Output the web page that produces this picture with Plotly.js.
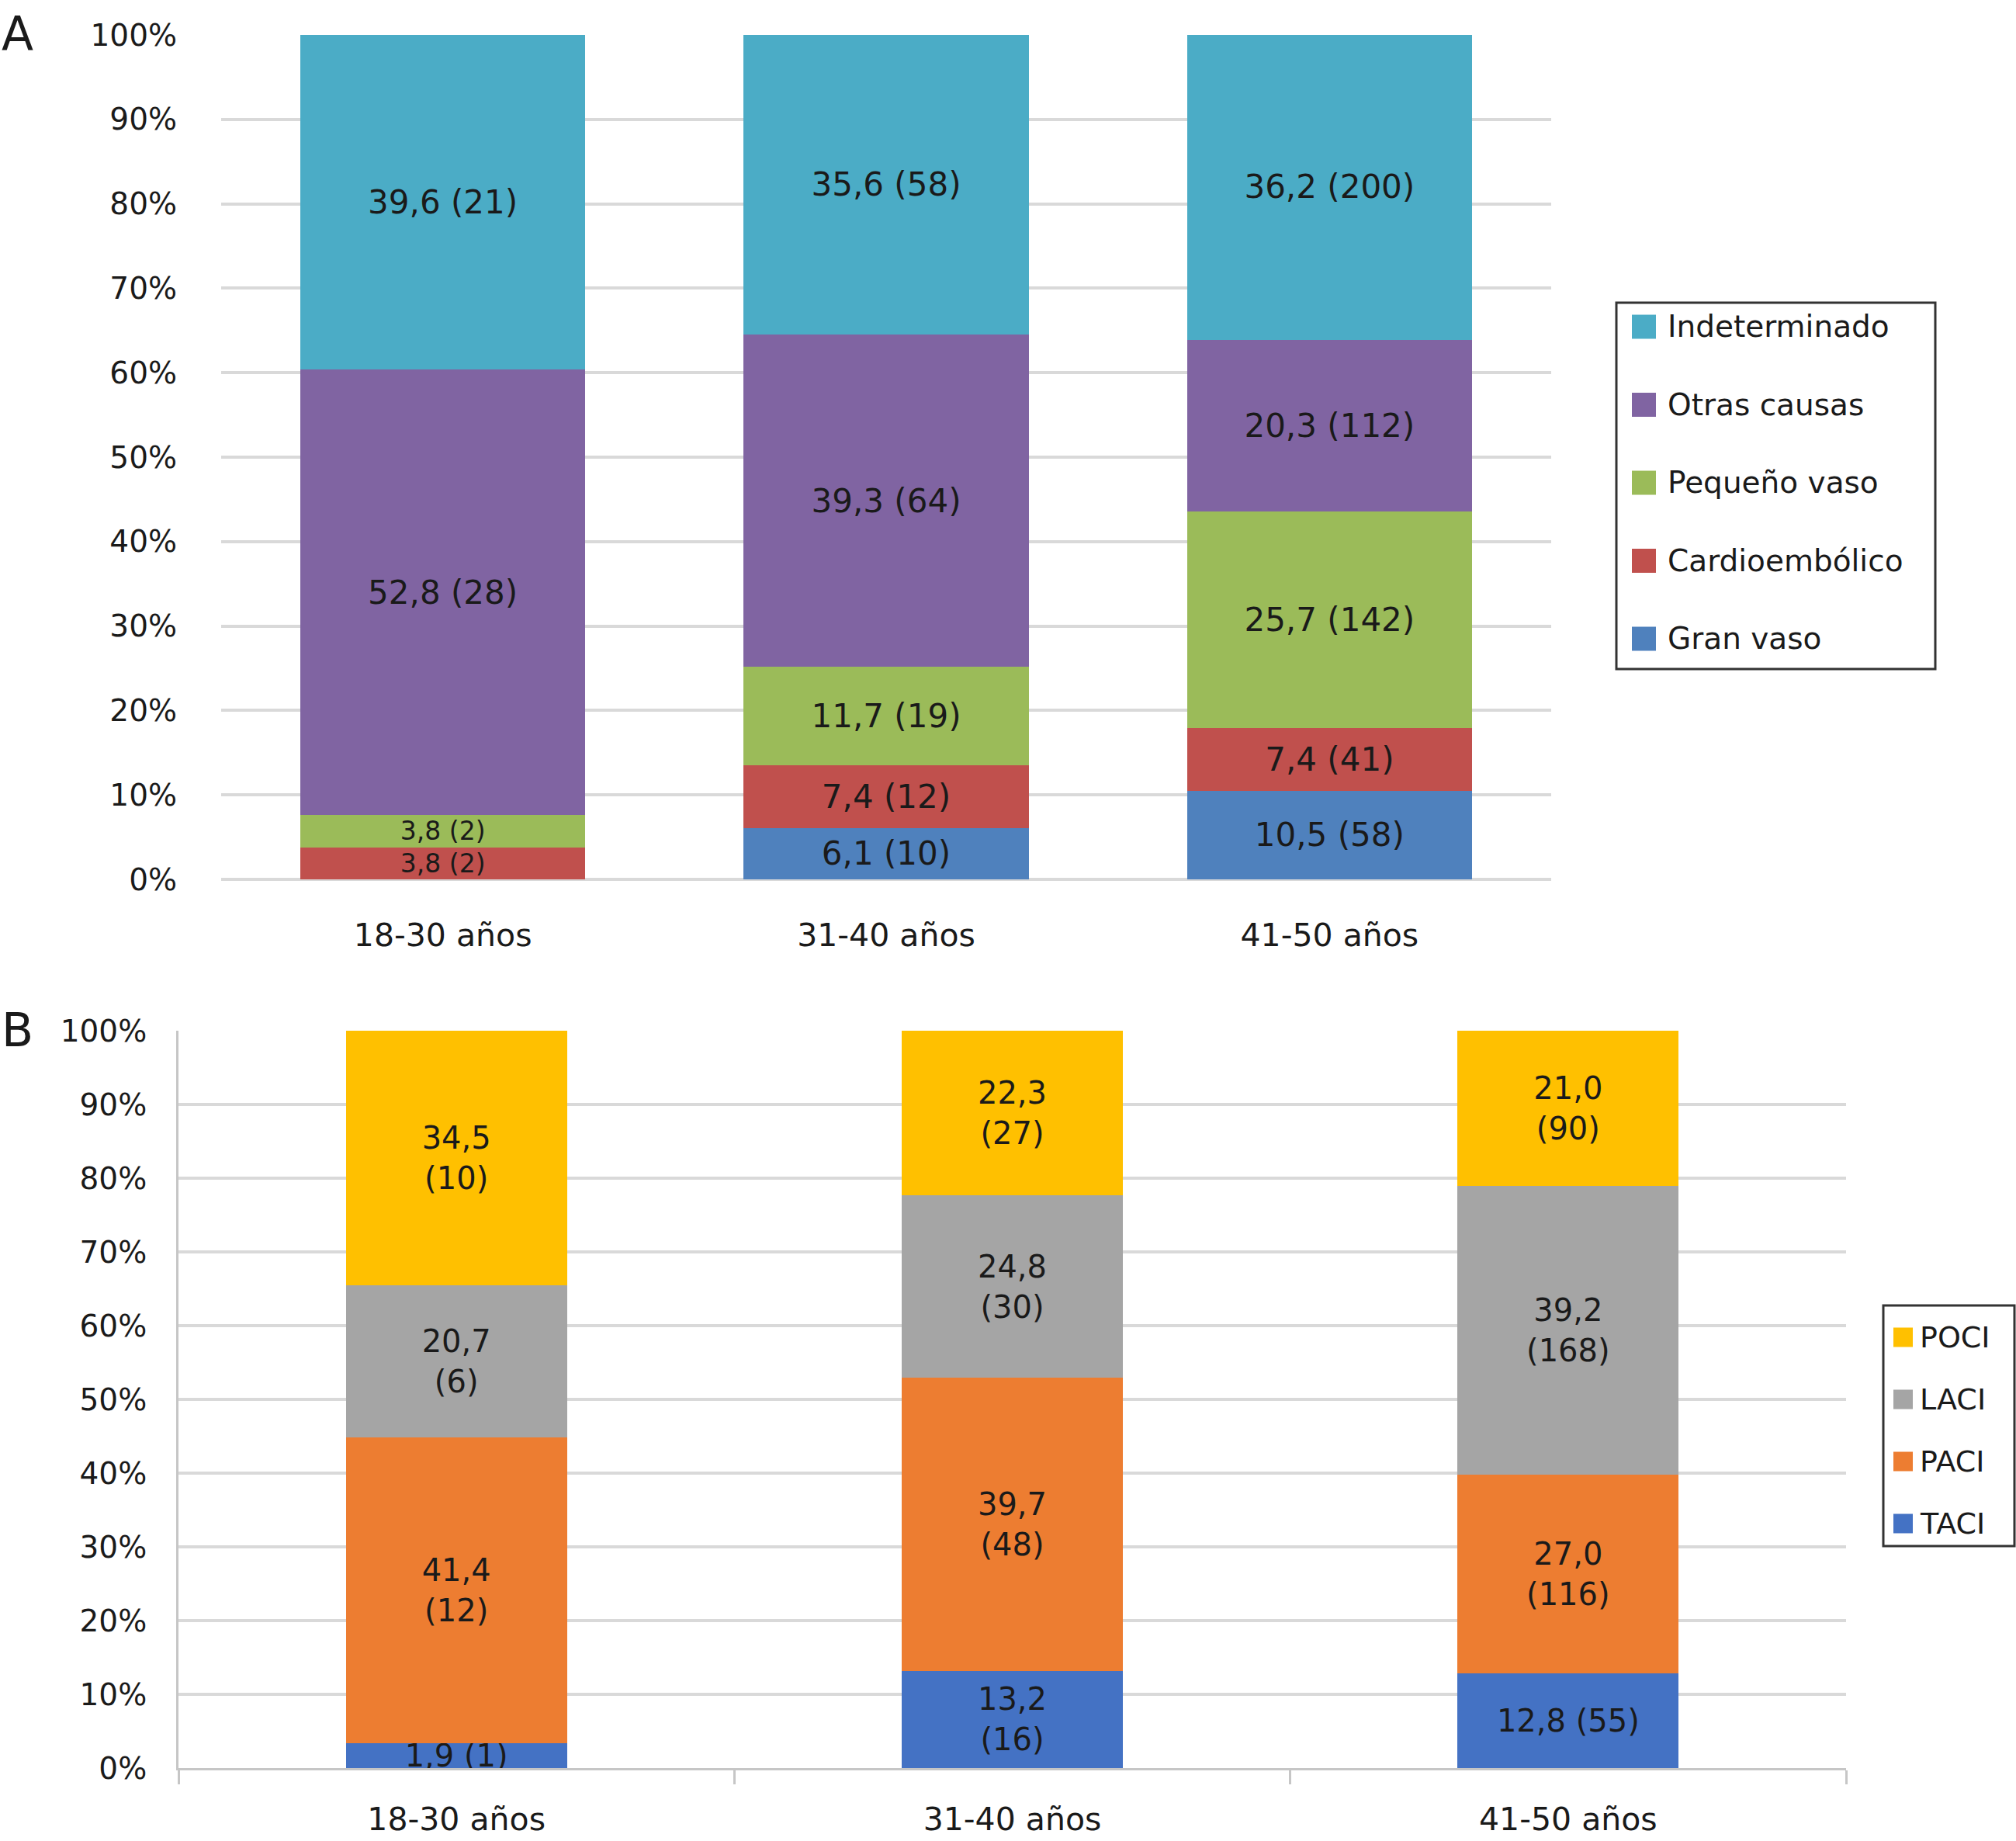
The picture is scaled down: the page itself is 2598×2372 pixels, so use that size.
<!DOCTYPE html>
<html><head><meta charset="utf-8">
<script src="https://cdn.plot.ly/plotly-3.0.1.min.js"></script>
<style>html,body{margin:0;padding:0;background:#fff;}#chart{width:2598px;height:2372px;}</style>
</head><body><div id="chart"></div>
<script>
// ---------- Panel A data (percent, n) ----------
const agesA = ['18-30 años', '31-40 años', '41-50 años'];
const granVaso = [0, 6.1, 10.5];
const granVasoN = [0, 10, 58];
const cardioembolico = [3.8, 7.4, 7.4];
const cardioembolicoN = [2, 12, 41];
const pequenoVaso = [3.8, 11.7, 25.7];
const pequenoVasoN = [2, 19, 142];
const otrasCausas = [52.8, 39.3, 20.3];
const otrasCausasN = [28, 64, 112];
const indeterminado = [39.6, 35.6, 36.2];
const indeterminadoN = [21, 58, 200];

// ---------- Panel B data ----------
const agesB = ['18-30 años', '31-40 años', '41-50 años'];
const taci = [3.4, 13.2, 12.8];
const taciLabels = ['1,9 (1)', '13,2<br>(16)', '12,8 (55)'];
const paci = [41.4, 39.7, 27.0];
const paciLabels = ['41,4<br>(12)', '39,7<br>(48)', '27,0<br>(116)'];
const laci = [20.7, 24.8, 39.2];
const laciLabels = ['20,7<br>(6)', '24,8<br>(30)', '39,2<br>(168)'];
const poci = [34.5, 22.3, 21.0];
const pociLabels = ['34,5<br>(10)', '22,3<br>(27)', '21,0<br>(90)'];

const yTickVals = [0, 10, 20, 30, 40, 50, 60, 70, 80, 90, 100];
const yTickText = ['0%', '10%', '20%', '30%', '40%', '50%', '60%', '70%', '80%', '90%', '100%'];

const FONT = 'DejaVu Sans, sans-serif';
const TXT = '#1a1a1a';
const W = 2598, H = 2372;
const px = v => v / W;
const py = v => 1 - v / H;

function labelA(vals, ns) {
  return vals.map((v, i) => v > 0 ? v.toFixed(1).replace('.', ',') + ' (' + ns[i] + ')' : '');
}
// thin segments (< 5 %) get a slightly smaller label so stacked labels do not collide
function sizesFor(vals, big, small) {
  return vals.map(v => v < 5 ? small : big);
}

function barA(name, vals, ns, color) {
  const sz = sizesFor(vals, 42, 33);
  return {
    type: 'bar', name: name, x: agesA, y: vals, xaxis: 'x', yaxis: 'y',
    width: 0.643, marker: {color: color, line: {width: 0}},
    text: labelA(vals, ns), textposition: 'inside', insidetextanchor: 'middle', textangle: 0,
    constraintext: 'none',
    textfont: {family: FONT, size: sz, color: TXT}, insidetextfont: {family: FONT, size: sz, color: TXT},
    showlegend: false, hoverinfo: 'skip'
  };
}
function barB(name, vals, labels, color) {
  return {
    type: 'bar', name: name, x: agesB, y: vals, xaxis: 'x2', yaxis: 'y2',
    width: 0.398, marker: {color: color, line: {width: 0}},
    text: labels, textposition: 'inside', insidetextanchor: 'middle', textangle: 0,
    constraintext: 'none',
    textfont: {family: FONT, size: 40, color: TXT}, insidetextfont: {family: FONT, size: 40, color: TXT},
    showlegend: false, hoverinfo: 'skip'
  };
}

const tracesA = [
  barA('Gran vaso', granVaso, granVasoN, '#4F81BD'),
  barA('Cardioembólico', cardioembolico, cardioembolicoN, '#C0504D'),
  barA('Pequeño vaso', pequenoVaso, pequenoVasoN, '#9BBB59'),
  barA('Otras causas', otrasCausas, otrasCausasN, '#8064A2'),
  barA('Indeterminado', indeterminado, indeterminadoN, '#4BACC6')
];
const tracesB = [
  barB('TACI', taci, taciLabels, '#4472C4'),
  barB('PACI', paci, paciLabels, '#ED7D31'),
  barB('LACI', laci, laciLabels, '#A5A5A5'),
  barB('POCI', poci, pociLabels, '#FFC000')
];
const data = tracesA.concat(tracesB);

// ---------- legends (boxes, swatches, names) built from the traces ----------
const shapes = [];
const annotations = [];
function buildLegend(traces, box, sw, textX, firstY, step, fontSize) {
  shapes.push({type: 'rect', xref: 'paper', yref: 'paper',
    x0: px(box[0]), x1: px(box[1]), y0: py(box[3]), y1: py(box[2]),
    line: {color: '#333', width: 3}, fillcolor: 'rgba(0,0,0,0)', layer: 'above'});
  traces.slice().reverse().forEach(function (t, i) {
    const cy = firstY + i * step;
    shapes.push({type: 'rect', xref: 'paper', yref: 'paper',
      x0: px(sw[0]), x1: px(sw[1]), y0: py(cy + sw[2] / 2), y1: py(cy - sw[2] / 2),
      line: {width: 0}, fillcolor: t.marker.color, layer: 'above'});
    annotations.push({text: t.name, xref: 'paper', yref: 'paper', x: px(textX), y: py(cy),
      xanchor: 'left', yanchor: 'middle', showarrow: false,
      font: {family: FONT, size: fontSize, color: TXT}});
  });
}
buildLegend(tracesA, [2083, 2494, 390, 862], [2103, 2134, 31], 2147, 421, 100.5, 39);
buildLegend(tracesB, [2427, 2596, 1682, 1992], [2440, 2465, 25], 2472, 1723, 80, 38);

annotations.push({text: 'A', xref: 'paper', yref: 'paper', x: px(0), y: py(6), xanchor: 'left', yanchor: 'top',
  showarrow: false, font: {family: FONT, size: 60, color: TXT}});
annotations.push({text: 'B', xref: 'paper', yref: 'paper', x: px(0), y: py(1290), xanchor: 'left', yanchor: 'top',
  showarrow: false, font: {family: FONT, size: 60, color: TXT}});

const GRID = '#d9d9d9';
const layout = {
  width: W, height: H,
  margin: {l: 0, r: 0, t: 0, b: 0},
  paper_bgcolor: '#fff', plot_bgcolor: 'rgba(0,0,0,0)',
  barmode: 'stack',
  font: {family: FONT, size: 39, color: TXT},
  showlegend: false,
  xaxis: {
    domain: [px(285), px(1999)], anchor: 'y', type: 'category',
    showgrid: false, showline: false, zeroline: false, ticks: '',
    tickfont: {family: FONT, size: 41, color: TXT}, ticklabelstandoff: 44,
    automargin: false, fixedrange: true
  },
  yaxis: {
    domain: [py(1133), py(45)], anchor: 'x', range: [0, 100],
    tickvals: yTickVals, ticktext: yTickText,
    showgrid: true, gridcolor: GRID, gridwidth: 4,
    zeroline: true, zerolinecolor: GRID, zerolinewidth: 4,
    showline: false, ticks: '',
    tickfont: {family: FONT, size: 39, color: TXT}, ticklabelstandoff: 56,
    automargin: false, fixedrange: true
  },
  xaxis2: {
    domain: [px(230), px(2379)], anchor: 'y2', type: 'category',
    showgrid: false, zeroline: false,
    showline: true, linecolor: '#c6c6c6', linewidth: 3,
    ticks: 'outside', tickson: 'boundaries', ticklen: 18, tickwidth: 3, tickcolor: '#c6c6c6',
    tickfont: {family: FONT, size: 41, color: TXT}, ticklabelstandoff: 28,
    automargin: false, fixedrange: true
  },
  yaxis2: {
    domain: [py(2278), py(1328)], anchor: 'x2', range: [0, 100],
    tickvals: yTickVals, ticktext: yTickText,
    showgrid: true, gridcolor: GRID, gridwidth: 4,
    zeroline: false,
    showline: true, linecolor: '#c6c6c6', linewidth: 3, ticks: '',
    tickfont: {family: FONT, size: 39, color: TXT}, ticklabelstandoff: 30,
    automargin: false, fixedrange: true
  },
  shapes: shapes,
  annotations: annotations
};

Plotly.newPlot('chart', data, layout, {staticPlot: true, responsive: false});
</script>
</body></html>
